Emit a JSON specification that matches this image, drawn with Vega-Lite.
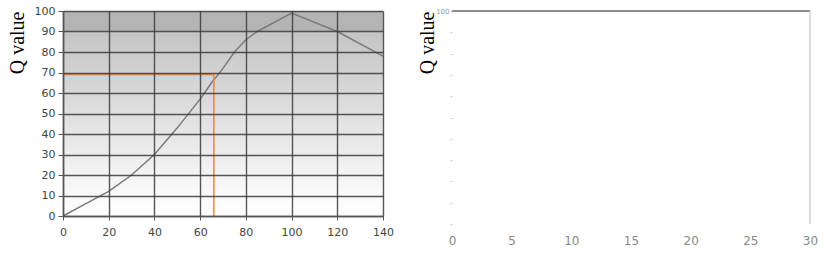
{
  "$schema": "https://vega.github.io/schema/vega-lite/v6.json",
  "background": "white",
  "padding": {"left": 7, "top": 5, "right": 10, "bottom": 0},
  "spacing": 23,
  "config": {
    "view": {"stroke": null},
    "axis": {"labelFont": "DejaVu Sans", "titleFont": "Liberation Serif", "titleFontWeight": "normal"}
  },
  "datasets": {
    "curve": [
      {"x": 0, "q": 0}, {"x": 10, "q": 6}, {"x": 20, "q": 12}, {"x": 30, "q": 20},
      {"x": 40, "q": 30}, {"x": 50, "q": 43}, {"x": 60, "q": 57}, {"x": 65, "q": 65},
      {"x": 70, "q": 72}, {"x": 75, "q": 80}, {"x": 80, "q": 86}, {"x": 85, "q": 90},
      {"x": 100, "q": 99}, {"x": 120, "q": 90}, {"x": 140, "q": 78}
    ],
    "orange": [
      {"x": 0, "q": 69}, {"x": 66, "q": 69}, {"x": 66, "q": 0}
    ],
    "bands": [
      {"x": 0, "xe": 140, "q": 0, "qe": 90, "band": "low"},
      {"x": 0, "xe": 140, "q": 90, "qe": 100, "band": "top"}
    ],
    "flat": [
      {"x": 0, "q": 100}, {"x": 30, "q": 100}
    ]
  },
  "hconcat": [
    {
      "width": 320,
      "height": 205,
      "encoding": {
        "x": {
          "field": "x", "type": "quantitative",
          "scale": {"domain": [0, 140], "nice": false},
          "axis": {
            "values": [0, 20, 40, 60, 80, 100, 120, 140], "zindex": 1,
            "title": null, "grid": true, "gridColor": "#3a3a3a", "gridWidth": 1.4, "gridOpacity": 0.85,
            "domain": true, "domainColor": "#555", "domainWidth": 1.5,
            "ticks": true, "tickColor": "#555", "tickSize": 4,
            "labelFontSize": 11, "labelColor": "#444", "labelPadding": 6, "labelOverlap": false, "labelFlush": false
          }
        },
        "y": {
          "field": "q", "type": "quantitative",
          "scale": {"domain": [0, 100], "nice": false},
          "axis": {
            "values": [0, 10, 20, 30, 40, 50, 60, 70, 80, 90, 100], "zindex": 1,
            "title": "Q value", "titleFontSize": 20, "titleColor": "#000", "titleAnchor": "end", "titlePadding": 7,
            "grid": true, "gridColor": "#3a3a3a", "gridWidth": 1.4, "gridOpacity": 0.85,
            "domain": true, "domainColor": "#555", "domainWidth": 1.5,
            "ticks": true, "tickColor": "#555", "tickSize": 5,
            "labelFontSize": 11, "labelColor": "#444", "labelPadding": 3, "labelOverlap": false, "labelFlush": false
          }
        }
      },
      "layer": [
        {
          "data": {"name": "bands"},
          "transform": [{"filter": "datum.band == 'low'"}],
          "mark": {
            "type": "rect",
            "color": {
              "gradient": "linear", "x1": 0, "y1": 1, "x2": 0, "y2": 0,
              "stops": [
                {"offset": 0, "color": "#ffffff"},
                {"offset": 0.1, "color": "#fbfbfb"},
                {"offset": 1, "color": "#c4c4c4"}
              ]
            }
          },
          "encoding": {
            "x2": {"field": "xe"},
            "y2": {"field": "qe"}
          }
        },
        {
          "data": {"name": "bands"},
          "transform": [{"filter": "datum.band == 'top'"}],
          "mark": {"type": "rect", "color": "#b4b4b4"},
          "encoding": {
            "x2": {"field": "xe"},
            "y2": {"field": "qe"}
          }
        },
        {
          "data": {"name": "curve"},
          "mark": {"type": "line", "color": "#7a7a7a", "strokeWidth": 1.5},
          "encoding": {}
        },
        {
          "data": {"name": "orange"},
          "mark": {"type": "line", "color": "#e8893a", "strokeWidth": 1.5},
          "encoding": {"order": {"value": 0}}
        }
      ]
    },
    {
      "width": 358,
      "height": 213,
      "layer": [
        {
          "data": {"name": "flat"},
          "mark": {"type": "line", "color": "#8c8c8c", "strokeWidth": 2},
          "encoding": {
            "x": {
              "field": "x", "type": "quantitative",
              "scale": {"domain": [0, 30], "nice": false},
              "axis": {
                "values": [0, 5, 10, 15, 20, 25, 30], "title": null, "grid": false,
                "domain": false, "ticks": false, "labelFlush": false,
                "labelFontSize": 12, "labelColor": "#888", "labelPadding": 11
              }
            },
            "y": {
              "field": "q", "type": "quantitative",
              "scale": {"domain": [0, 100], "nice": false},
              "axis": {
                "values": [0, 10, 20, 30, 40, 50, 60, 70, 80, 90, 100],
                "labelExpr": "datum.value == 100 ? '100' : ''",
                "title": "Q value", "titleFontSize": 20, "titleColor": "#000", "titleAnchor": "end", "titlePadding": -2,
                "grid": false, "domain": false,
                "ticks": true, "tickColor": "#cccccc", "tickSize": 2,
                "labelFontSize": 7, "labelColor": "#999", "labelPadding": 1
              }
            }
          }
        },
        {
          "data": {"name": "flat"},
          "mark": {"type": "rule", "color": "#cfcfcf", "strokeWidth": 1},
          "encoding": {
            "x": {"datum": 30, "type": "quantitative"}
          }
        }
      ]
    }
  ]
}
